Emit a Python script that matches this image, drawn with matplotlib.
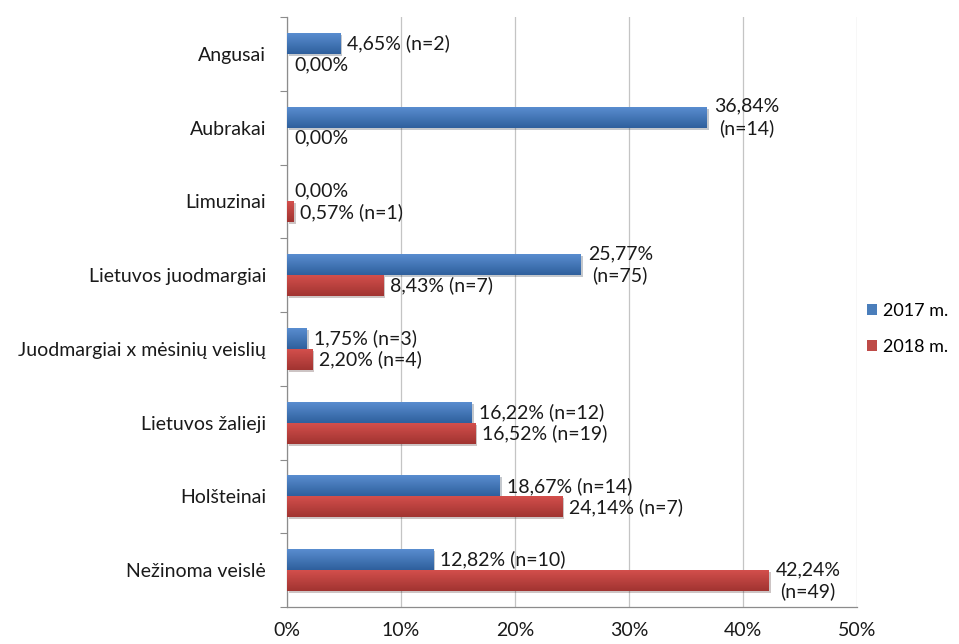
import numpy as np
import matplotlib
matplotlib.use("Agg")
import matplotlib.pyplot as plt
from matplotlib.colors import LinearSegmentedColormap
from matplotlib.patches import Patch
import matplotlib.patheffects as pe

plt.rcParams['font.family'] = ['Lato', 'DejaVu Sans']

categories = ["Angusai", "Aubrakai", "Limuzinai", "Lietuvos juodmargiai",
              "Juodmargiai x mėsinių veislių", "Lietuvos žalieji",
              "Holšteinai", "Nežinoma veislė"]
series_names = ["2017 m.", "2018 m."]
values_2017 = [4.65, 36.84, 0.00, 25.77, 1.75, 16.22, 18.67, 12.82]
values_2018 = [0.00, 0.00, 0.57, 8.43, 2.20, 16.52, 24.14, 42.24]
counts_2017 = [2, 14, None, 75, 3, 12, 14, 10]
counts_2018 = [None, None, 1, 7, 4, 19, 7, 49]
x_ticks = [0, 10, 20, 30, 40, 50]

colors = {
    "2017 m.": ("#5b8fd2", "#2f609d", "#4a7ebb"),
    "2018 m.": ("#d5504d", "#a13431", "#be4b48"),
}
FS = 14


def fmt_label(v, n, wrap):
    txt = f"{v:.2f}".replace(".", ",") + "%"
    if n is None:
        return txt
    sep = "\n" if wrap else " "
    return f"{txt}{sep}(n={n})"


fig = plt.figure(figsize=(9.59, 6.44), dpi=100)
ax = fig.add_axes([287 / 959, 37 / 644, 570 / 959, 590 / 644])

y = np.arange(len(categories))
bar_h = 0.285
series = [(values_2017, counts_2017, -bar_h / 2), (values_2018, counts_2018, bar_h / 2)]

for name, (vals, cnts, off) in zip(series_names, series):
    top_c, bot_c, _ = colors[name]
    cmap = LinearSegmentedColormap.from_list(name, [top_c, bot_c])
    bars = ax.barh(y + off, vals, height=bar_h, color=colors[name][2],
                   edgecolor="none", zorder=3)
    for b, v, n in zip(bars, vals, cnts):
        if v > 0:
            b.set_path_effects([pe.SimplePatchShadow(offset=(1.5, -1.5), alpha=0.25), pe.Normal()])
            x0, y0 = b.get_x(), b.get_y()
            w, h = b.get_width(), b.get_height()
            grad = np.linspace(0, 1, 64).reshape(-1, 1)
            im = ax.imshow(grad, extent=[x0, x0 + w, y0 + h, y0], aspect="auto",
                           cmap=cmap, origin="upper", zorder=3.5, interpolation="bilinear")
            im.set_clip_path(b)
        wrap = v > 25
        ax.annotate(fmt_label(v, n, wrap), xy=(v, b.get_y() + b.get_height() / 2),
                    xytext=(5, 0), textcoords="offset points", ha="left", va="center",
                    multialignment="center", fontsize=FS, color="#1a1a1a", zorder=5,
                    linespacing=1.3)

ax.set_xlim(0, 50)
ax.set_ylim(len(categories) - 0.5, -0.5)
ax.set_xticks(x_ticks)
ax.set_xticklabels([f"{t}%" for t in x_ticks], fontsize=FS, color="#1a1a1a")
ax.set_yticks(y)
ax.set_yticklabels(categories, fontsize=FS, color="#1a1a1a")
ax.set_yticks(np.arange(len(categories) + 1) - 0.5, minor=True)
ax.tick_params(axis="y", which="major", length=0, pad=15)
ax.tick_params(axis="y", which="minor", length=5, color="#8c8c8c", width=0.8)
ax.tick_params(axis="x", which="major", length=0, pad=11)

ax.grid(axis="x", color="#c4c4c4", linewidth=0.9, zorder=0)
ax.set_axisbelow(True)
for s in ["top", "right"]:
    ax.spines[s].set_visible(False)
for s in ["left", "bottom"]:
    ax.spines[s].set_color("#8c8c8c")
    ax.spines[s].set_linewidth(0.9)

handles = [Patch(facecolor=colors[n][2], edgecolor="none") for n in series_names]
fig.legend(handles, series_names, loc="center left", bbox_to_anchor=(867 / 959, 1 - 329 / 644),
           frameon=False, fontsize=13, handlelength=0.55, handleheight=0.55,
           handletextpad=0.35, labelspacing=1.1, borderaxespad=0, borderpad=0)

fig.savefig("out.png", dpi=100)
